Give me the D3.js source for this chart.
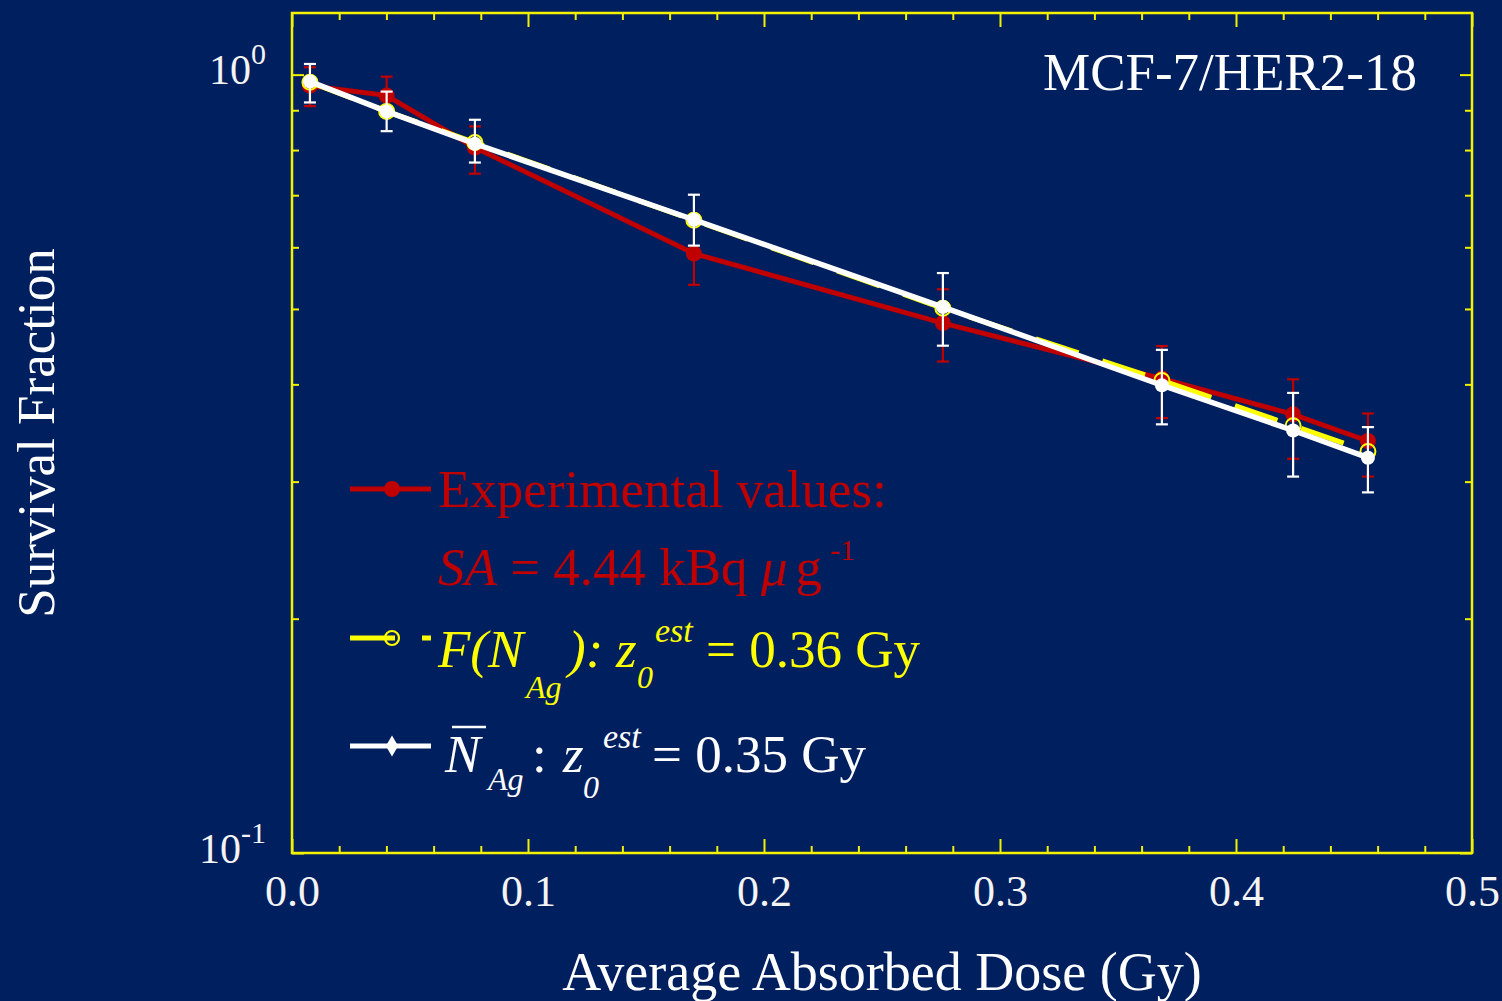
<!DOCTYPE html>
<html>
<head>
<meta charset="utf-8">
<script src="https://cdn.jsdelivr.net/npm/d3@7"></script>
<style>
  html, body { margin: 0; padding: 0; background: #001F5F; }
  svg { display: block; }
  text { font-family: "Liberation Serif", "Times New Roman", serif; }
</style>
</head>
<body>
<svg id="chart" width="1502" height="1001"></svg>
<script>
// ---------------- data ----------------
const dose   = [0.0076, 0.0401, 0.0775, 0.1703, 0.2758, 0.3686, 0.4242, 0.4559];
const expSF  = [0.968, 0.940, 0.806, 0.589, 0.4795, 0.4069, 0.3661, 0.3383];
const expLo  = [0.911, 0.889, 0.746, 0.537, 0.428, 0.362, 0.321, 0.3045];
const expHi  = [1.022, 0.994, 0.858, 0.646, 0.530, 0.448, 0.406, 0.367];
const fSF    = [0.978, 0.897, 0.818, 0.650, 0.501, 0.4047, 0.354, 0.328];
const nSF    = [0.980, 0.897, 0.815, 0.651, 0.5027, 0.399, 0.349, 0.322];
const nLo    = [0.921, 0.846, 0.771, 0.603, 0.4485, 0.3554, 0.3045, 0.2906];
const nHi    = [1.032, 0.951, 0.875, 0.701, 0.556, 0.443, 0.390, 0.3525];

const xMajor = [0, 0.1, 0.2, 0.3, 0.4, 0.5];
const xLabels = ["0.0", "0.1", "0.2", "0.3", "0.4", "0.5"];
const xMinor = d3.range(0, 0.5001, 0.02);
const yMajor = [0.1, 1];
const yExp = ["-1", "0"];
const yMinor = [0.2, 0.3, 0.4, 0.5, 0.6, 0.7, 0.8, 0.9];

// ---------------- layout ----------------
const NAVY = "#001F5F", RED = "#C00000", YEL = "#FFFF00", WHITE = "#FFFFFF", AXC = "#F2F200";
const L = 292, R = 1472, T = 13, B = 853;
const svg = d3.select("#chart");
svg.append("rect").attr("width", 1502).attr("height", 1001).attr("fill", NAVY);

const x = d3.scaleLinear().domain([0, 0.5]).range([L, R]);
const y = d3.scaleLog().domain([0.1, 1.2]).range([B, T]);

// axes (ticks inward)
function styleAxis(g) {
  g.select(".domain").remove();
  g.selectAll(".tick line").attr("stroke", AXC).attr("stroke-width", 2);
}
const xMinorOnly = xMinor.filter(v => !xMajor.some(m => Math.abs(m - v) < 1e-6));
svg.append("g").attr("transform", `translate(0,${B})`)
  .call(d3.axisBottom(x).tickValues(xMinorOnly).tickSize(-7).tickFormat(""))
  .call(styleAxis);
svg.append("g").attr("transform", `translate(0,${T})`)
  .call(d3.axisTop(x).tickValues(xMinorOnly).tickSize(-7).tickFormat(""))
  .call(styleAxis);
const xb = svg.append("g").attr("transform", `translate(0,${B})`)
  .call(d3.axisBottom(x).tickValues(xMajor).tickSize(-14).tickPadding(22).tickFormat((d, i) => xLabels[i]))
  .call(styleAxis);
xb.selectAll(".tick text").attr("fill", "#F4F4F4").attr("font-size", 44)
  .attr("font-family", "Liberation Serif, serif");
svg.append("g").attr("transform", `translate(0,${T})`)
  .call(d3.axisTop(x).tickValues(xMajor).tickSize(-14).tickFormat(""))
  .call(styleAxis);

svg.append("g").attr("transform", `translate(${L},0)`)
  .call(d3.axisLeft(y).tickValues(yMinor).tickSize(-7).tickFormat(""))
  .call(styleAxis);
svg.append("g").attr("transform", `translate(${R},0)`)
  .call(d3.axisRight(y).tickValues(yMinor).tickSize(-7).tickFormat(""))
  .call(styleAxis);
const yl = svg.append("g").attr("transform", `translate(${L},0)`)
  .call(d3.axisLeft(y).tickValues(yMajor).tickSize(-12).tickFormat(""))
  .call(styleAxis);
yl.selectAll(".tick").each(function (d, i) {
  const t = d3.select(this).append("text")
    .attr("x", -26).attr("y", 9).attr("text-anchor", "end")
    .attr("fill", "#F4F4F4").attr("font-size", 42)
    .attr("font-family", "Liberation Serif, serif");
  t.append("tspan").text("10");
  t.append("tspan").attr("font-size", 30).attr("dy", -20).text(yExp[i]);
});
svg.append("g").attr("transform", `translate(${R},0)`)
  .call(d3.axisRight(y).tickValues(yMajor).tickSize(-12).tickFormat(""))
  .call(styleAxis);

// frame
svg.append("rect").attr("x", L).attr("y", T).attr("width", R - L).attr("height", B - T)
  .attr("fill", "none").attr("stroke", AXC).attr("stroke-width", 2.5);

// axis titles
svg.append("text").attr("x", (L + R) / 2).attr("y", 990).attr("text-anchor", "middle")
  .attr("fill", WHITE).attr("font-size", 54).text("Average Absorbed Dose (Gy)");
svg.append("text").attr("transform", "translate(54,433) rotate(-90)").attr("text-anchor", "middle")
  .attr("fill", WHITE).attr("font-size", 53).text("Survival Fraction");
svg.append("text").attr("x", 1417).attr("y", 90).attr("text-anchor", "end")
  .attr("fill", WHITE).attr("font-size", 53).text("MCF-7/HER2-18");

// ---------------- series ----------------
const idx = d3.range(dose.length);
const line = arr => d3.line().x(i => x(dose[i])).y(i => y(arr[i]))(idx);
const cap = 6;

function errorBars(lo, hi, color) {
  const g = svg.append("g").attr("stroke", color).attr("stroke-width", 2.2);
  g.selectAll("line.v").data(idx).join("line")
    .attr("x1", i => x(dose[i])).attr("x2", i => x(dose[i]))
    .attr("y1", i => y(lo[i])).attr("y2", i => y(hi[i]));
  g.selectAll("line.t").data(idx).join("line")
    .attr("x1", i => x(dose[i]) - cap).attr("x2", i => x(dose[i]) + cap)
    .attr("y1", i => y(hi[i])).attr("y2", i => y(hi[i]));
  g.selectAll("line.b").data(idx).join("line")
    .attr("x1", i => x(dose[i]) - cap).attr("x2", i => x(dose[i]) + cap)
    .attr("y1", i => y(lo[i])).attr("y2", i => y(lo[i]));
}

// experimental (red)
errorBars(expLo, expHi, RED);
svg.append("path").attr("d", line(expSF)).attr("fill", "none")
  .attr("stroke", RED).attr("stroke-width", 5).attr("stroke-linejoin", "round");
svg.append("g").selectAll("circle").data(idx).join("circle")
  .attr("cx", i => x(dose[i])).attr("cy", i => y(expSF[i])).attr("r", 8).attr("fill", RED);

// F(N_Ag) (yellow dashed, open circles)
svg.append("path").attr("d", line(fSF)).attr("fill", "none")
  .attr("stroke", YEL).attr("stroke-width", 5).attr("stroke-dasharray", "45,25");
svg.append("g").selectAll("circle").data(idx).join("circle")
  .attr("cx", i => x(dose[i])).attr("cy", i => y(fSF[i])).attr("r", 7.5)
  .attr("fill", "none").attr("stroke", YEL).attr("stroke-width", 2);

// N bar (white)
errorBars(nLo, nHi, WHITE);
svg.append("path").attr("d", line(nSF)).attr("fill", "none")
  .attr("stroke", WHITE).attr("stroke-width", 5.5).attr("stroke-linejoin", "round");
svg.append("g").selectAll("circle").data(idx).join("circle")
  .attr("cx", i => x(dose[i])).attr("cy", i => y(nSF[i])).attr("r", 7).attr("fill", WHITE);

// ---------------- legend ----------------
const lx1 = 350, lx2 = 431, lm = 392;
// red
svg.append("line").attr("x1", lx1).attr("x2", lx2).attr("y1", 489).attr("y2", 489)
  .attr("stroke", RED).attr("stroke-width", 5);
svg.append("circle").attr("cx", lm).attr("cy", 489).attr("r", 8).attr("fill", RED);
// yellow
svg.append("line").attr("x1", lx1).attr("x2", lx2).attr("y1", 638).attr("y2", 638)
  .attr("stroke", YEL).attr("stroke-width", 5).attr("stroke-dasharray", "45,27");
svg.append("circle").attr("cx", lm).attr("cy", 638).attr("r", 7).attr("fill", "none")
  .attr("stroke", YEL).attr("stroke-width", 2.2);
// white
svg.append("line").attr("x1", lx1).attr("x2", lx2).attr("y1", 746).attr("y2", 746)
  .attr("stroke", WHITE).attr("stroke-width", 5);
svg.append("path").attr("d", d3.symbol(d3.symbolDiamond, 130)()).attr("transform", `translate(${lm},746)`)
  .attr("fill", WHITE);

function txt(xp, yp, s, color, size, italic) {
  return svg.append("text").attr("x", xp).attr("y", yp).attr("fill", color)
    .attr("font-size", size).attr("font-style", italic ? "italic" : "normal").text(s);
}
txt(438, 507, "Experimental values:", RED, 53, false);
const sa = svg.append("text").attr("x", 438).attr("y", 585).attr("fill", RED).attr("font-size", 53);
sa.append("tspan").attr("font-style", "italic").text("SA");
sa.append("tspan").text(" = 4.44 kBq ");
sa.append("tspan").attr("font-style", "italic").text("\u03BC");
sa.append("tspan").attr("dx", 8).text("g");
sa.append("tspan").attr("font-size", 30).attr("dy", -25).attr("dx", 8).text("-1");

txt(438, 667, "F(N", YEL, 53, true);
txt(526, 698, "Ag", YEL, 32, true);
txt(568, 667, "):", YEL, 53, true);
txt(616, 667, "z", YEL, 53, true);
txt(637, 688, "0", YEL, 32, true);
txt(655, 642, "est", YEL, 34, true);
txt(706, 667, "= 0.36 Gy", YEL, 53, false);

txt(445, 772, "N", WHITE, 53, true);
svg.append("line").attr("x1", 452).attr("x2", 486).attr("y1", 727).attr("y2", 727)
  .attr("stroke", WHITE).attr("stroke-width", 2.5);
txt(488, 790, "Ag", WHITE, 32, true);
txt(532, 772, ":", WHITE, 53, false);
txt(563, 772, "z", WHITE, 53, true);
txt(583, 798, "0", WHITE, 32, true);
txt(603, 748, "est", WHITE, 34, true);
txt(652, 772, "= 0.35 Gy", WHITE, 53, false);
</script>
</body>
</html>
